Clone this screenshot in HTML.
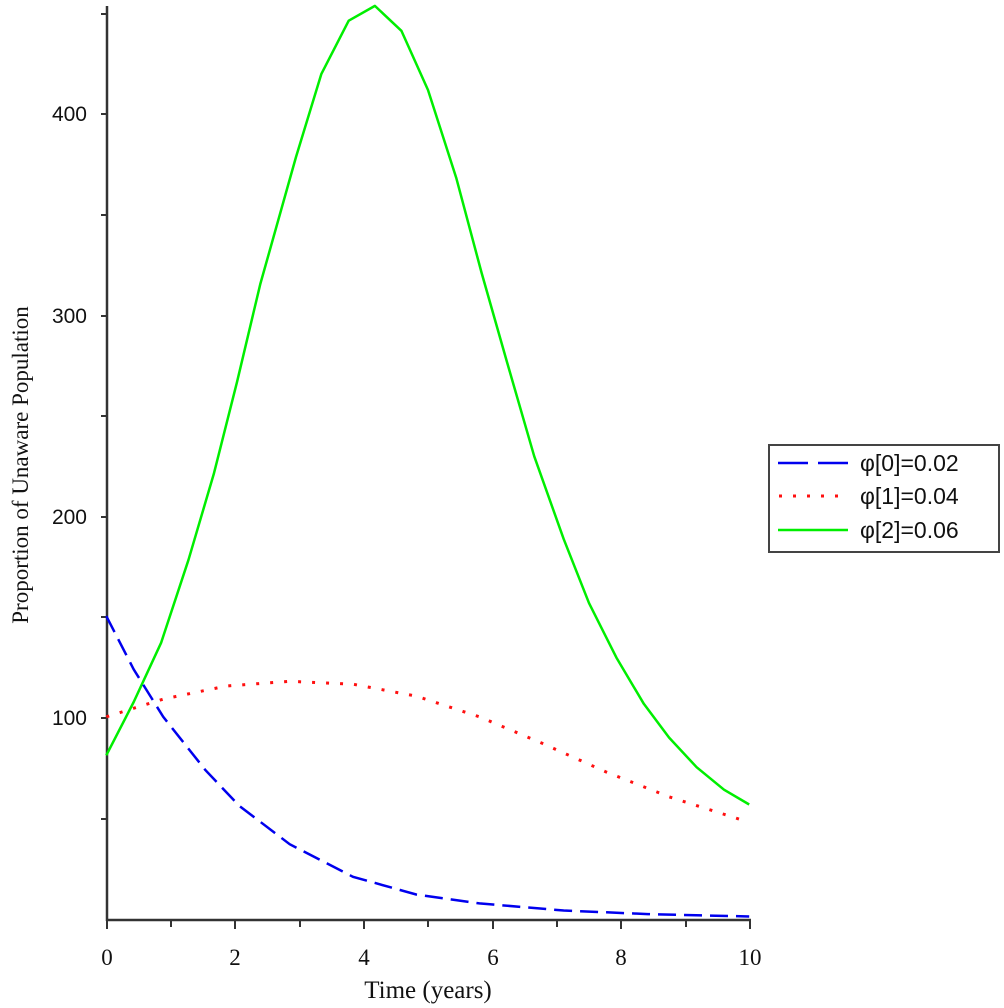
<!DOCTYPE html>
<html><head><meta charset="utf-8"><style>
html,body{margin:0;padding:0;background:#fff;}
svg{display:block;}
</style></head><body>
<svg width="1004" height="1008" viewBox="0 0 1004 1008" xmlns="http://www.w3.org/2000/svg">
<rect width="1004" height="1008" fill="#fff"/>
<!-- axes -->
<g stroke="#333" stroke-width="2.5" fill="none">
<line x1="107" y1="6" x2="107" y2="921"/>
<line x1="106" y1="920" x2="751" y2="920"/>
</g>
<g stroke="#333" stroke-width="2">
<line x1="101" y1="14" x2="107" y2="14"/>
<line x1="101" y1="114" x2="107" y2="114"/>
<line x1="101" y1="215" x2="107" y2="215"/>
<line x1="101" y1="316" x2="107" y2="316"/>
<line x1="101" y1="416" x2="107" y2="416"/>
<line x1="101" y1="517" x2="107" y2="517"/>
<line x1="101" y1="617" x2="107" y2="617"/>
<line x1="101" y1="718" x2="107" y2="718"/>
<line x1="101" y1="819" x2="107" y2="819"/>
<line x1="107" y1="920" x2="107" y2="929"/>
<line x1="171" y1="920" x2="171" y2="927"/>
<line x1="235" y1="920" x2="235" y2="929"/>
<line x1="300" y1="920" x2="300" y2="927"/>
<line x1="364" y1="920" x2="364" y2="929"/>
<line x1="428" y1="920" x2="428" y2="927"/>
<line x1="493" y1="920" x2="493" y2="929"/>
<line x1="557" y1="920" x2="557" y2="927"/>
<line x1="621" y1="920" x2="621" y2="929"/>
<line x1="686" y1="920" x2="686" y2="927"/>
<line x1="750" y1="920" x2="750" y2="929"/>
</g>
<g font-family="Liberation Sans, sans-serif" font-size="21" fill="#111" text-anchor="end">
<text x="87" y="121">400</text>
<text x="87" y="323">300</text>
<text x="87" y="524">200</text>
<text x="87" y="725">100</text>
</g>
<g font-family="Liberation Serif, serif" font-size="23" fill="#111" text-anchor="middle">
<text x="107" y="965">0</text>
<text x="235" y="965">2</text>
<text x="364" y="965">4</text>
<text x="493" y="965">6</text>
<text x="621" y="965">8</text>
<text x="750" y="965">10</text>
<text x="428" y="998" font-size="25">Time (years)</text>
<text transform="translate(28,465) rotate(-90)" font-size="23">Proportion of Unaware Population</text>
</g>
<!-- series -->
<polyline fill="none" stroke="#00ee00" stroke-width="2.5" stroke-linejoin="round" points="106.3,755.3 133.7,702 161.1,642.8 188.5,559.8 213.8,473.9 237,382.1 260.2,284.4 296,157 321.3,74.1 348.7,20.7 374.9,5.9 401.4,30.8 428,90 456.2,177.7 481.5,272.5 506.8,361.4 534.2,456.2 563.7,539.1 589,603.1 616.4,657.6 643.8,703.8 669.1,737.6 696.6,767.2 724,789.7 749.2,804.5"/>
<polyline fill="none" stroke="#ff1010" stroke-width="3" stroke-dasharray="3 11" points="106.3,716.8 163.2,699.1 226.5,686 289.7,681.3 353,684.2 416.2,696.1 479.4,716.8 542.7,743.5 605.9,771.9 669.1,796.8 749.2,822.3"/>
<polyline fill="none" stroke="#0000ee" stroke-width="2.5" stroke-dasharray="18 8" points="106.3,616.1 133.7,669.4 163.2,716.8 205.4,770.1 239.1,805.7 289.7,844.2 353,876.8 416.2,894.5 479.4,903.4 563.7,910.5 648,914.1 749.2,916.5"/>
<!-- legend -->
<rect x="769" y="445" width="230" height="107" fill="#fff" stroke="#444" stroke-width="2"/>
<line x1="778" y1="463" x2="848" y2="463" stroke="#0000ee" stroke-width="2.5" stroke-dasharray="30 10"/>
<line x1="779" y1="496" x2="848" y2="496" stroke="#ff1010" stroke-width="3" stroke-dasharray="3 11"/>
<line x1="778" y1="530" x2="848" y2="530" stroke="#00ee00" stroke-width="2.5"/>
<g font-family="Liberation Sans, sans-serif" font-size="23" fill="#111">
<text x="860" y="471">φ[0]=0.02</text>
<text x="860" y="504">φ[1]=0.04</text>
<text x="860" y="538">φ[2]=0.06</text>
</g>
</svg>
</body></html>
